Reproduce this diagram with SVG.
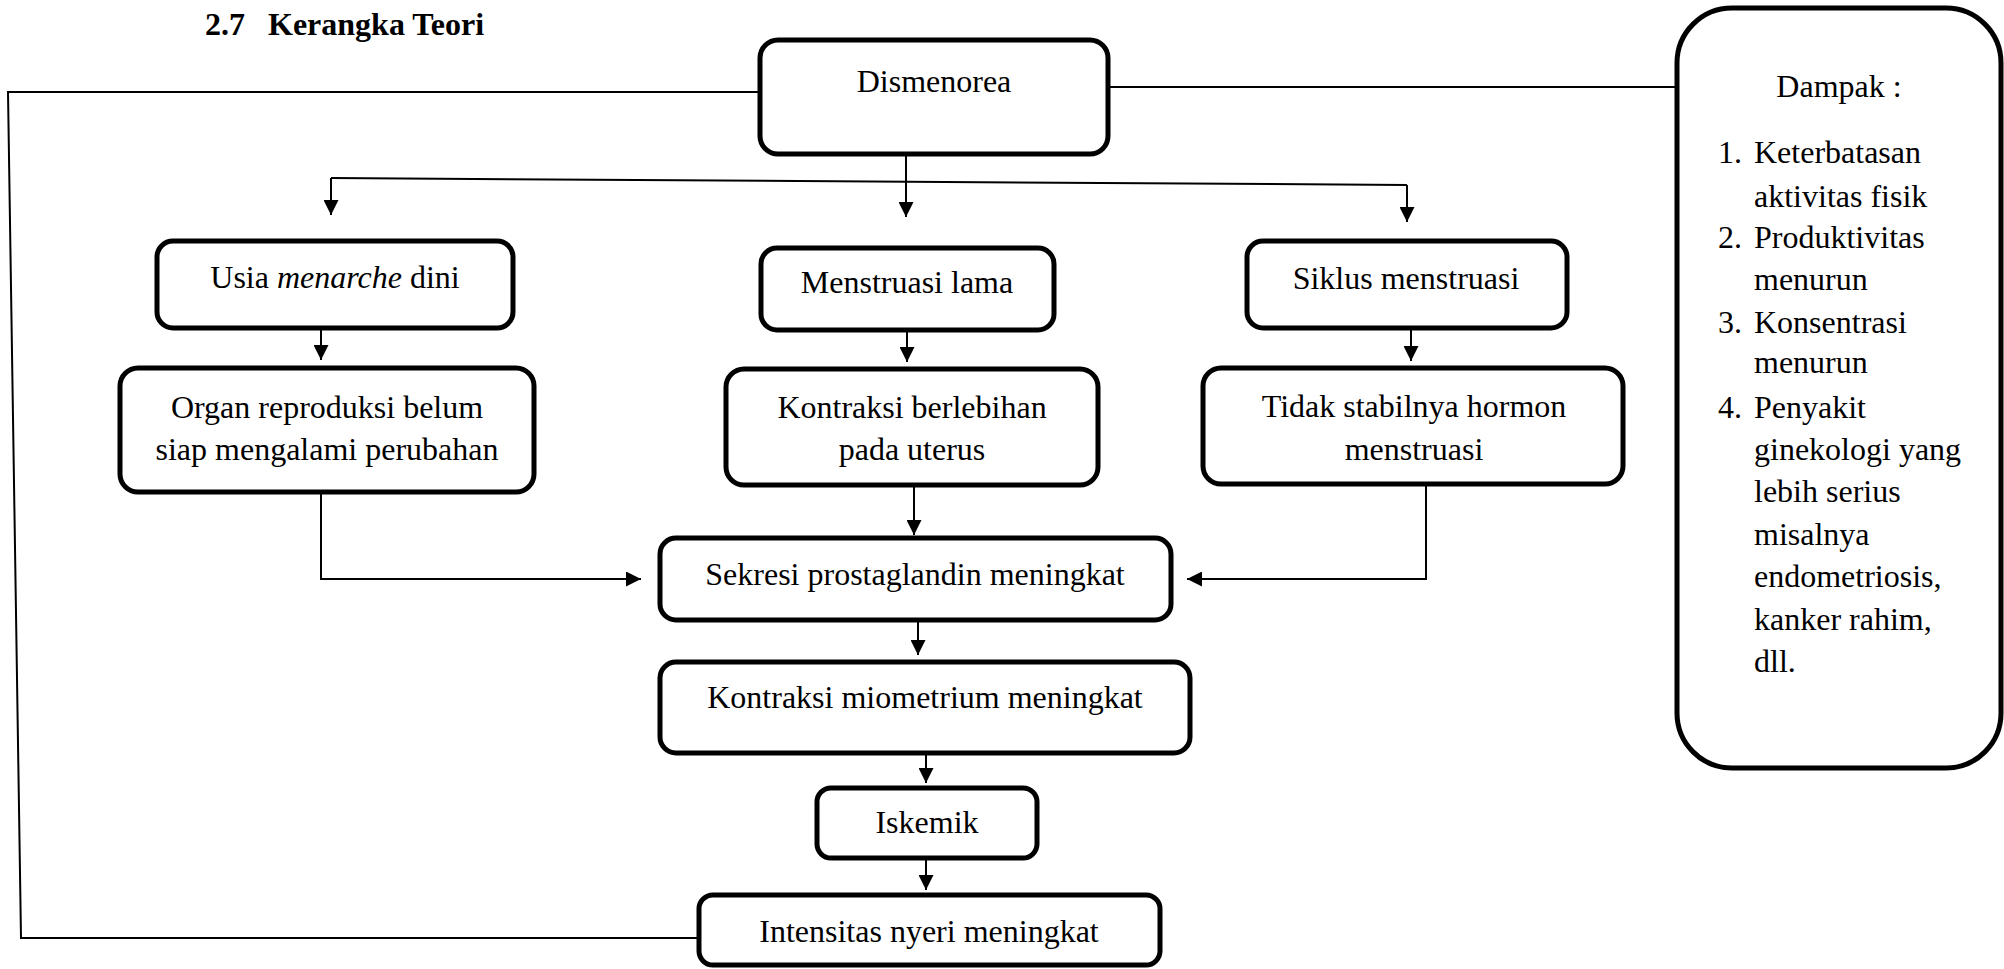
<svg xmlns="http://www.w3.org/2000/svg" width="2004" height="969" viewBox="0 0 2004 969">
<defs>
<style>
.box{fill:#fff;stroke:#000;stroke-width:5}
.t{font-family:"Liberation Serif","Times New Roman",serif;font-size:32px;fill:#000}
.c{text-anchor:middle}
.ln{fill:none;stroke:#000;stroke-width:2}
</style>
<marker id="ah" markerUnits="userSpaceOnUse" markerWidth="15" markerHeight="15" refX="15" refY="7.5" orient="auto">
<path d="M0,0 L15,7.5 L0,15 z" fill="#000"/>
</marker>
</defs>
<rect width="2004" height="969" fill="#fff"/>
<text class="t" x="205" y="35" font-weight="bold"><tspan>2.7</tspan><tspan x="268">Kerangka Teori</tspan></text>
<g id="connectors">
<path class="ln" d="M760,92 L8,92 L21,938 L699,938"/>
<path class="ln" d="M1108,87 L1677,87"/>
<path class="ln" d="M331,178 L1407,185"/>
<path class="ln" d="M331,178 L331,215" marker-end="url(#ah)"/>
<path class="ln" d="M1407,185 L1407,222" marker-end="url(#ah)"/>
<path class="ln" d="M906,153 L906,217" marker-end="url(#ah)"/>
<path class="ln" d="M321,328 L321,360" marker-end="url(#ah)"/>
<path class="ln" d="M907,330 L907,362" marker-end="url(#ah)"/>
<path class="ln" d="M1411,328 L1411,361" marker-end="url(#ah)"/>
<path class="ln" d="M914,485 L914,535" marker-end="url(#ah)"/>
<path class="ln" d="M321,492 L321,579 L641,579" marker-end="url(#ah)"/>
<path class="ln" d="M1426,484 L1426,579 L1187,579" marker-end="url(#ah)"/>
<path class="ln" d="M918,620 L918,655" marker-end="url(#ah)"/>
<path class="ln" d="M926,753 L926,783" marker-end="url(#ah)"/>
<path class="ln" d="M926,858 L926,890" marker-end="url(#ah)"/>
</g>
<g id="dismenorea">
<rect class="box" x="760" y="40" width="348" height="114" rx="18"/>
<text class="t c" x="934" y="92">Dismenorea</text>
</g>
<g id="usia">
<rect class="box" x="157" y="241" width="356" height="87" rx="16"/>
<text class="t c" x="335" y="288">Usia <tspan font-style="italic">menarche</tspan> dini</text>
</g>
<g id="menstruasi-lama">
<rect class="box" x="761" y="248" width="293" height="82" rx="16"/>
<text class="t c" x="907" y="293">Menstruasi lama</text>
</g>
<g id="siklus">
<rect class="box" x="1247" y="241" width="320" height="87" rx="16"/>
<text class="t c" x="1406" y="289">Siklus menstruasi</text>
</g>
<g id="organ">
<rect class="box" x="120" y="368" width="414" height="124" rx="18"/>
<text class="t c" x="327" y="418">Organ reproduksi belum</text>
<text class="t c" x="327" y="460">siap mengalami perubahan</text>
</g>
<g id="kontraksi-berlebihan">
<rect class="box" x="726" y="369" width="372" height="116" rx="18"/>
<text class="t c" x="912" y="418">Kontraksi berlebihan</text>
<text class="t c" x="912" y="460">pada uterus</text>
</g>
<g id="tidak-stabil">
<rect class="box" x="1203" y="368" width="420" height="116" rx="18"/>
<text class="t c" x="1414" y="417">Tidak stabilnya hormon</text>
<text class="t c" x="1414" y="460">menstruasi</text>
</g>
<g id="sekresi">
<rect class="box" x="660" y="538" width="511" height="82" rx="16"/>
<text class="t c" x="915" y="585">Sekresi prostaglandin meningkat</text>
</g>
<g id="kontraksi-miometrium">
<rect class="box" x="660" y="662" width="530" height="91" rx="16"/>
<text class="t c" x="925" y="708">Kontraksi miometrium meningkat</text>
</g>
<g id="iskemik">
<rect class="box" x="817" y="788" width="220" height="70" rx="14"/>
<text class="t c" x="927" y="833">Iskemik</text>
</g>
<g id="intensitas">
<rect class="box" x="699" y="895" width="461" height="70" rx="14"/>
<text class="t c" x="929" y="942">Intensitas nyeri meningkat</text>
</g>
<g id="dampak">
<rect class="box" x="1677" y="8" width="324" height="760" rx="55"/>
<text class="t c" x="1839" y="97">Dampak :</text>
<text class="t" x="1718" y="163">1.</text>
<text class="t" x="1754" y="163">Keterbatasan</text>
<text class="t" x="1754" y="207">aktivitas fisik</text>
<text class="t" x="1718" y="248">2.</text>
<text class="t" x="1754" y="248">Produktivitas</text>
<text class="t" x="1754" y="290">menurun</text>
<text class="t" x="1718" y="333">3.</text>
<text class="t" x="1754" y="333">Konsentrasi</text>
<text class="t" x="1754" y="373">menurun</text>
<text class="t" x="1718" y="418">4.</text>
<text class="t" x="1754" y="418">Penyakit</text>
<text class="t" x="1754" y="460">ginekologi yang</text>
<text class="t" x="1754" y="502">lebih serius</text>
<text class="t" x="1754" y="545">misalnya</text>
<text class="t" x="1754" y="587">endometriosis,</text>
<text class="t" x="1754" y="630">kanker rahim,</text>
<text class="t" x="1754" y="672">dll.</text>
</g>
</svg>
